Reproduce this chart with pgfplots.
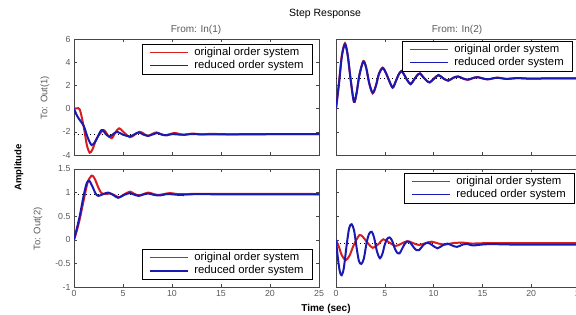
\documentclass[border=0pt]{standalone}
\usepackage{pgfplots}
\pgfplotsset{compat=1.18}
\usepackage{fontspec}
\setmainfont{Liberation Sans}
\definecolor{origred}{RGB}{215,30,30}
\definecolor{redblue}{RGB}{25,25,180}
\definecolor{axgray}{RGB}{70,70,70}
\definecolor{lblgray}{RGB}{90,90,90}
% #1 node name, #2 anchor, #3 position (rel axis cs), #4 xshift, #5 yshift
\newcommand{\leg}[5]{%
  \node[draw=black, line width=0.8pt, fill=white, minimum width=170pt, minimum height=30pt,
        inner sep=0pt, anchor=#2, xshift=#4, yshift=#5] (#1) at (rel axis cs:#3) {};
  \draw[origred, line width=1.2pt] ([xshift=8pt, yshift=-8.5pt]#1.north west) -- ++(38pt,0pt);
  \draw[redblue, line width=1.8pt] ([xshift=8pt, yshift=-21.5pt]#1.north west) -- ++(38pt,0pt);
  \node[anchor=west, inner sep=0pt, font=\fontsize{11.3}{13}\selectfont] at ([xshift=52pt, yshift=-8.5pt]#1.north west) {original order system};
  \node[anchor=west, inner sep=0pt, font=\fontsize{11.3}{13}\selectfont] at ([xshift=52pt, yshift=-21.5pt]#1.north west) {reduced order system};
}
\pgfplotsset{
 mlab/.style={
  scale only axis, anchor=south west,
  xmin=0, xmax=25, xtick={0,5,10,15,20,25},
  axis line style={axgray, line width=0.6pt},
  tick style={axgray, line width=0.5pt}, major tick length=3pt,
  tick align=inside,
  ticklabel style={font=\fontsize{8.8}{10}\selectfont, text=lblgray},
  /pgf/number format/assume math mode=true,
  clip=true,
 },
 origline/.style={draw=origred, line width=2pt, smooth},
 redline/.style={draw=redblue, line width=2pt, smooth},
 ssline/.style={black, line width=0.5pt, dash pattern=on 1pt off 3pt},
}
\begin{document}
\begin{tikzpicture}
\useasboundingbox (0,0) rectangle (576pt,314pt);
% ---------------- top left: In(1) -> Out(1)
\begin{axis}[mlab, at={(74pt,159pt)}, width=245pt, height=116pt,
  ymin=-4, ymax=6, ytick={-4,-2,0,2,4,6}, xticklabels={}]
\addplot[ssline] coordinates {(0,-2.2) (25,-2.2)};
\addplot[origline] coordinates {
(0,0) (0.3,0.02) (0.6,-0.1) (1.0,-1.6) (1.3,-3.1) (1.6,-3.8) (1.9,-3.5) (2.3,-2.6)
(3.0,-1.85) (3.45,-2.3) (3.85,-2.55) (4.2,-2.1) (4.6,-1.7) (5.15,-2.1) (5.7,-2.47)
(6.2,-2.25) (6.7,-2.0) (7.1,-2.15) (7.5,-2.35) (7.95,-2.2) (8.4,-2.05) (8.85,-2.2)
(9.3,-2.3) (9.8,-2.2) (10.3,-2.1) (11.2,-2.27) (12.1,-2.15) (13,-2.23) (14,-2.18)
(16,-2.22) (18,-2.2) (25,-2.2)};
\addplot[redline] coordinates {
(0,0) (0.3,-0.6) (0.6,-1.0) (1.0,-1.5) (1.4,-2.5) (1.8,-3.14) (2.2,-2.8) (2.8,-1.85)
(3.2,-2.15) (3.6,-2.42) (4.0,-2.2) (4.4,-2.0) (5.0,-2.25) (5.7,-2.4) (6.2,-2.2)
(6.6,-2.05) (7.1,-2.25) (7.6,-2.35) (8.1,-2.2) (8.5,-2.1) (9.0,-2.25) (9.5,-2.3)
(10,-2.2) (11,-2.25) (12,-2.2) (14,-2.22) (25,-2.2)};
\leg{LA}{north east}{1,1}{-6pt}{-5pt}
\end{axis}
% ---------------- top right: In(2) -> Out(1)
\begin{axis}[mlab, at={(336pt,159pt)}, width=244pt, height=116pt,
  ymin=-4, ymax=6, ytick={-4,-2,0,2,4,6}, xticklabels={}, yticklabels={}]
\addplot[ssline] coordinates {(0,2.6) (25,2.6)};
\addplot[origline] coordinates {
(0,0) (0.3,2.2) (0.6,4.6) (0.92,5.63) (1.2,4.6) (1.5,2.5) (1.84,0.57) (2.1,1.3)
(2.4,2.9) (2.8,4.1) (3.1,3.5) (3.4,2.2) (3.76,1.32) (4.1,2.0) (4.4,3.0) (4.78,3.53)
(5.1,3.1) (5.45,2.4) (5.8,1.8) (6.1,2.3) (6.4,2.9) (6.7,3.24) (7.0,2.9) (7.3,2.45)
(7.65,2.1) (8.0,2.5) (8.3,2.85) (8.6,3.04) (8.95,2.7) (9.3,2.4) (9.6,2.25) (10.0,2.55)
(10.5,2.9) (11.0,2.6) (11.5,2.4) (12.0,2.65) (12.5,2.78) (13.0,2.6) (13.5,2.48)
(14.0,2.62) (14.5,2.72) (15.5,2.52) (16.5,2.67) (17.5,2.55) (18.5,2.63) (20,2.58)
(22,2.61) (25,2.6)};
\addplot[redline] coordinates {
(0,0) (0.3,2.1) (0.6,4.5) (0.92,5.55) (1.2,4.6) (1.5,2.5) (1.84,0.6) (2.1,1.3)
(2.4,2.9) (2.8,4.05) (3.1,3.5) (3.4,2.2) (3.76,1.35) (4.1,2.0) (4.4,3.0) (4.78,3.5)
(5.1,3.1) (5.45,2.4) (5.8,1.82) (6.1,2.3) (6.4,2.9) (6.7,3.22) (7.0,2.9) (7.3,2.45)
(7.65,2.12) (8.0,2.5) (8.3,2.85) (8.6,3.02) (8.95,2.7) (9.3,2.4) (9.6,2.27) (10.0,2.55)
(10.5,2.88) (11.0,2.6) (11.5,2.42) (12.0,2.65) (12.5,2.76) (13.0,2.6) (13.5,2.5)
(14.0,2.62) (14.5,2.7) (15.5,2.53) (16.5,2.66) (17.5,2.56) (18.5,2.63) (20,2.58)
(22,2.61) (25,2.6)};
\leg{LB}{north east}{1,1}{-7pt}{-2pt}
\end{axis}
% ---------------- bottom left: In(1) -> Out(2)
\begin{axis}[mlab, at={(74pt,27pt)}, width=245pt, height=118pt,
  ymin=-1, ymax=1.5, ytick={-1,-0.5,0,0.5,1,1.5}]
\addplot[ssline] coordinates {(0,0.97) (25,0.97)};
\addplot[origline] coordinates {
(0,0) (0.3,0.2) (0.6,0.45) (1.0,0.85) (1.4,1.22) (1.8,1.36) (2.1,1.3) (2.5,1.1)
(2.8,0.99) (3.2,0.97) (3.7,0.98) (4.1,0.95) (4.6,0.9) (5.1,0.96) (5.7,1.02)
(6.1,0.98) (6.6,0.94) (7.1,0.97) (7.6,1.0) (8.1,0.97) (8.6,0.95) (9.2,0.97)
(9.8,0.99) (10.5,0.97) (11.5,0.96) (13,0.975) (25,0.97)};
\addplot[redline] coordinates {
(0,0) (0.3,0.25) (0.6,0.52) (1.0,0.95) (1.3,1.2) (1.56,1.25) (1.9,1.12) (2.2,0.98)
(2.5,0.93) (3.0,0.97) (3.5,1.0) (4.0,0.95) (4.5,0.89) (5.1,0.95) (5.7,0.99)
(6.1,0.96) (6.6,0.93) (7.1,0.96) (7.6,0.98) (8.2,0.95) (8.8,0.94) (9.5,0.97)
(10.2,0.96) (11,0.95) (12,0.965) (25,0.96)};
\leg{LC}{south east}{1,0}{-6pt}{7pt}
\end{axis}
% ---------------- bottom right: In(2) -> Out(2)
\begin{axis}[mlab, at={(336pt,27pt)}, width=244pt, height=118pt,
  ymin=-1, ymax=1.5, ytick={-1,-0.5,0,0.5,1,1.5}, yticklabels={}]
\addplot[ssline] coordinates {(0,-0.08) (25,-0.08)};
\addplot[origline] coordinates {
(0,0) (0.3,-0.15) (0.6,-0.33) (1.0,-0.43) (1.4,-0.33) (1.8,-0.12) (2.4,0.1)
(2.8,0.05) (3.3,-0.08) (3.76,-0.17) (4.3,-0.1) (4.85,0.01) (5.4,-0.05) (6.1,-0.13)
(6.7,-0.08) (7.3,-0.03) (7.9,-0.07) (8.5,-0.11) (9.2,-0.07) (9.8,-0.04) (10.5,-0.08)
(11.2,-0.1) (12,-0.07) (13,-0.06) (14,-0.08) (16,-0.07) (25,-0.07)};
\addplot[redline] coordinates {
(0,0) (0.2,-0.4) (0.4,-0.68) (0.58,-0.75) (0.8,-0.6) (1.1,-0.1) (1.35,0.25)
(1.6,0.33) (1.85,0.2) (2.1,-0.15) (2.35,-0.45) (2.6,-0.51) (2.85,-0.4) (3.15,-0.05)
(3.4,0.13) (3.66,0.17) (3.9,0.05) (4.2,-0.25) (4.5,-0.39) (4.75,-0.3) (5.0,-0.1)
(5.25,0.02) (5.5,0.05) (5.75,-0.02) (6.0,-0.17) (6.25,-0.27) (6.5,-0.29) (6.75,-0.2)
(7.0,-0.1) (7.25,-0.04) (7.5,-0.04) (7.75,-0.1) (8.0,-0.17) (8.25,-0.22) (8.5,-0.22)
(8.75,-0.16) (9.0,-0.1) (9.4,-0.06) (9.9,-0.12) (10.4,-0.18) (10.9,-0.12) (11.4,-0.08)
(11.9,-0.12) (12.4,-0.15) (13,-0.1) (13.5,-0.09) (14,-0.12) (15,-0.1) (16,-0.09)
(18,-0.1) (25,-0.1)};
\leg{LD}{north east}{1,1}{-5pt}{-4pt}
\end{axis}
% ---------------- texts
\node[anchor=base, font=\fontsize{10.5}{12}\selectfont] at (325pt,297.5pt) {Step Response};
\node[anchor=base, text=lblgray, font=\fontsize{10}{12}\selectfont] at (196pt,281.7pt) {From: In(1)};
\node[anchor=base, text=lblgray, font=\fontsize{10}{12}\selectfont] at (457pt,281.7pt) {From: In(2)};
\node[rotate=90, text=lblgray, font=\fontsize{9.5}{11}\selectfont] at (45pt,216.5pt) {To: Out(1)};
\node[rotate=90, text=lblgray, font=\fontsize{9.5}{11}\selectfont] at (38pt,85pt) {To: Out(2)};
\node[rotate=90, font=\bfseries\fontsize{9.5}{11}\selectfont] at (19pt,146.5pt) {Amplitude};
\node[anchor=base, font=\bfseries\fontsize{10}{12}\selectfont] at (326pt,2.5pt) {Time (sec)};
\end{tikzpicture}
\end{document}
